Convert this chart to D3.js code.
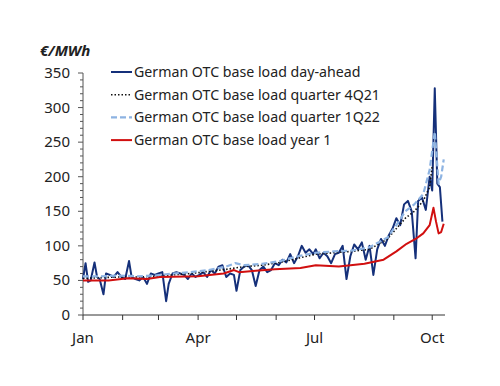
<!DOCTYPE html>
<html>
<head>
<meta charset="utf-8">
<style>
  body { margin: 0; background: #fff; }
  text { font-family: "Noto Sans", sans-serif; fill: #222; }
</style>
</head>
<body>
<div id="chart"></div>
<script src="https://d3js.org/d3.v7.min.js"></script>
<script>
// day offsets from 1 Jan 2021, with prices in EUR/MWh
var daDays = [0,2,4,6,9,11,13,16,18,21,24,27,30,33,36,38,41,44,47,50,53,56,59,62,65,67,70,73,76,79,82,85,88,91,94,97,100,103,106,109,112,115,118,120,123,126,129,132,135,138,141,144,147,150,153,156,159,162,165,168,171,174,177,180,182,185,188,191,194,197,200,203,206,209,212,215,218,221,224,227,230,233,236,239,242,245,248,251,254,257,260,262,265,268,271,273,275,277,279,281];
var daVals = [52,75,48,50,76,55,52,30,60,58,55,62,55,52,78,55,52,50,55,45,60,58,60,62,20,45,60,62,60,58,52,60,55,58,62,55,65,60,70,72,55,60,58,35,65,70,72,65,42,65,70,62,65,75,72,80,76,88,75,85,100,90,95,88,95,82,90,85,75,88,90,100,52,85,102,95,105,80,100,58,95,110,100,115,125,140,130,160,165,150,82,165,170,152,200,180,328,190,185,135];

var q4Days = [0,14,28,42,56,70,84,98,112,126,140,154,168,182,196,210,224,238,245,252,259,266,271,273];
var q4Vals = [53,54,55,55,56,58,60,63,66,70,72,76,82,88,90,92,95,110,125,140,150,165,185,215];

var q1Days = [0,14,28,42,56,70,84,98,112,119,126,140,154,168,182,196,210,224,238,245,252,259,266,271,275,278,280,282];
var q1Vals = [56,56,57,56,57,60,62,65,70,75,72,74,78,85,90,92,93,98,112,130,150,160,175,210,265,190,200,225];

var y1Days = [0,20,35,50,60,90,110,118,122,135,150,170,182,200,220,235,245,253,260,266,271,274,276,278,280,282];
var y1Vals = [50,50,53,52,55,56,60,65,62,64,66,68,72,70,74,80,92,103,110,118,130,155,135,118,120,132];

var legendLabels = ["German OTC base load day-ahead", "German OTC base load quarter 4Q21",
                    "German OTC base load quarter 1Q22", "German OTC base load year 1"];
var yTicks = [0,50,100,150,200,250,300,350];
var monthLabels = ["Jan","Apr","Jul","Oct"];

var start = new Date(2021, 0, 1);
function toSeries(days, vals) {
  return days.map(function(d, i) { return { date: d3.timeDay.offset(start, d), v: vals[i] }; });
}

var svg = d3.select("#chart").append("svg")
  .attr("width", 500).attr("height", 386);

var x = d3.scaleTime().domain([start, new Date(2021, 9, 11)]).range([83, 445]);
var y = d3.scaleLinear().domain([0, 350]).range([315, 73]);

// y axis
var gy = svg.append("g").attr("transform", "translate(83,0)");
gy.append("line").attr("y1", y(0)).attr("y2", y(350)).attr("stroke", "#555");
gy.selectAll(".minor").data(d3.range(0, 351, 10)).enter().append("line")
  .attr("x1", function(d) { return d % 50 === 0 ? -5 : -3; }).attr("x2", 0)
  .attr("y1", y).attr("y2", y).attr("stroke", "#555");
gy.selectAll("text").data(yTicks).enter().append("text")
  .attr("x", -13).attr("y", function(d) { return y(d) + 5; })
  .attr("text-anchor", "end").style("font-size", "15px").text(function(d) { return d; });

// x axis
var gx = svg.append("g");
gx.append("line").attr("x1", 83).attr("x2", 445).attr("y1", 315).attr("y2", 315).attr("stroke", "#333");
var months = d3.timeMonth.range(start, new Date(2021, 9, 2));
gx.selectAll(".tick").data(months).enter().append("line")
  .attr("x1", x).attr("x2", x).attr("y1", 315).attr("y2", 320).attr("stroke", "#333");
gx.selectAll("text").data([0, 3, 6, 9]).enter().append("text")
  .attr("x", function(m) { return x(new Date(2021, m, 1)); }).attr("y", 343)
  .attr("text-anchor", "middle").style("font-size", "15px")
  .text(function(m, i) { return monthLabels[i]; });

svg.append("text").attr("x", 40).attr("y", 56)
  .style("font-size", "15px").style("font-weight", "bold").style("font-style", "italic")
  .text("€/MWh");

var line = d3.line().x(function(d) { return x(d.date); }).y(function(d) { return y(d.v); });

var styles = [
  { data: toSeries(daDays, daVals), color: "#15307a", width: 2, dash: null },
  { data: toSeries(q4Days, q4Vals), color: "#111", width: 1.6, dash: "1.5,2" },
  { data: toSeries(q1Days, q1Vals), color: "#8db3e2", width: 2.2, dash: "6,3" },
  { data: toSeries(y1Days, y1Vals), color: "#d10f0f", width: 2, dash: null }
];
styles.forEach(function(s) {
  svg.append("path").datum(s.data).attr("d", line)
    .attr("fill", "none").attr("stroke", s.color).attr("stroke-width", s.width)
    .attr("stroke-dasharray", s.dash).attr("stroke-linejoin", "round");
});

// legend
var lg = svg.append("g");
legendLabels.forEach(function(t, i) {
  var yy = 72 + i * 22.7;
  lg.append("line").attr("x1", 111).attr("x2", 132).attr("y1", yy).attr("y2", yy)
    .attr("stroke", styles[i].color).attr("stroke-width", styles[i].width)
    .attr("stroke-dasharray", styles[i].dash);
  lg.append("text").attr("x", 134).attr("y", yy + 5).style("font-size", "14.2px").text(t);
});
</script>
</body>
</html>
